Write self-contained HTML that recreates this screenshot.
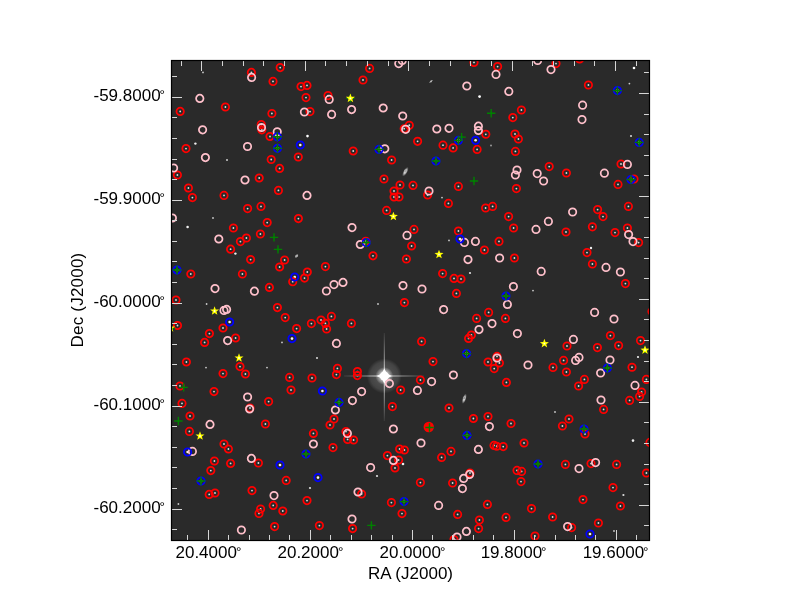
<!DOCTYPE html><html><head><meta charset="utf-8"><style>html,body{margin:0;padding:0;background:#fff;width:800px;height:600px;overflow:hidden}svg{display:block;will-change:transform}text{font-family:"Liberation Sans",sans-serif;fill:#000}</style></head><body>
<svg width="800" height="600" viewBox="0 0 800 600">
<defs><clipPath id="c"><rect x="171" y="60" width="479" height="481"/></clipPath><radialGradient id="halo"><stop offset="0" stop-color="#fff" stop-opacity="1"/><stop offset="0.25" stop-color="#fff" stop-opacity="0.7"/><stop offset="0.5" stop-color="#aaa" stop-opacity="0.25"/><stop offset="1" stop-color="#888" stop-opacity="0"/></radialGradient></defs>
<rect x="171" y="60" width="479" height="481" fill="#2a2a2a"/>
<g clip-path="url(#c)">
<defs><radialGradient id="h2"><stop offset="0" stop-color="#fff" stop-opacity="0.24"/><stop offset="0.8" stop-color="#fff" stop-opacity="0.12"/><stop offset="1" stop-color="#fff" stop-opacity="0"/></radialGradient><radialGradient id="core"><stop offset="0" stop-color="#fff" stop-opacity="1"/><stop offset="0.55" stop-color="#fff" stop-opacity="1"/><stop offset="1" stop-color="#fff" stop-opacity="0"/></radialGradient><linearGradient id="sv" x1="0" y1="0" x2="0" y2="1"><stop offset="0" stop-color="#fff" stop-opacity="0.08"/><stop offset="0.35" stop-color="#fff" stop-opacity="0.6"/><stop offset="0.5" stop-color="#fff" stop-opacity="1"/><stop offset="0.65" stop-color="#fff" stop-opacity="0.6"/><stop offset="1" stop-color="#fff" stop-opacity="0.08"/></linearGradient><linearGradient id="sh" x1="0" y1="0" x2="1" y2="0"><stop offset="0" stop-color="#fff" stop-opacity="0.08"/><stop offset="0.35" stop-color="#fff" stop-opacity="0.6"/><stop offset="0.5" stop-color="#fff" stop-opacity="1"/><stop offset="0.65" stop-color="#fff" stop-opacity="0.6"/><stop offset="1" stop-color="#fff" stop-opacity="0.08"/></linearGradient></defs>
<circle cx="384.3" cy="376.0" r="17.5" fill="url(#h2)"/>
<rect x="383.8" y="333" width="1" height="88" fill="url(#sv)"/>
<rect x="344" y="375.5" width="80" height="1" fill="url(#sh)"/>
<circle cx="384.3" cy="376.0" r="9" fill="url(#core)" opacity="0.5"/>
<path d="M384.3 368.5L386.90000000000003 373.4L391.8 376.0L386.90000000000003 378.6L384.3 383.5L381.7 378.6L376.8 376.0L381.7 373.4Z" fill="#fff"/>
<circle cx="384.3" cy="376.0" r="4.6" fill="#fff"/>
<defs><radialGradient id="gal"><stop offset="0" stop-color="#fff" stop-opacity="1"/><stop offset="0.45" stop-color="#eee" stop-opacity="0.7"/><stop offset="1" stop-color="#aaa" stop-opacity="0"/></radialGradient></defs>
<ellipse cx="405.4" cy="171.7" rx="2.2" ry="5.5" fill="url(#gal)" transform="rotate(30 405.4 171.7)"/>
<ellipse cx="464.3" cy="398.7" rx="2.0" ry="5.5" fill="url(#gal)" transform="rotate(18 464.3 398.7)"/>
<ellipse cx="431" cy="81.4" rx="1.0" ry="2.6" fill="url(#gal)" transform="rotate(55 431 81.4)"/>
<ellipse cx="296.6" cy="256" rx="1.6" ry="2.6" fill="url(#gal)" transform="rotate(40 296.6 256)"/>
<circle cx="251.4" cy="72.4" r="0.9" fill="#dedede"/>
<circle cx="280.2" cy="67.6" r="0.9" fill="#dedede"/>
<circle cx="273" cy="81.4" r="0.9" fill="#dedede"/>
<circle cx="225.4" cy="107" r="0.9" fill="#dedede"/>
<circle cx="180.2" cy="111.4" r="0.9" fill="#dedede"/>
<circle cx="271.9" cy="113.5" r="0.9" fill="#dedede"/>
<circle cx="261.25" cy="124.6" r="0.9" fill="#dedede"/>
<circle cx="261.8" cy="129.8" r="0.9" fill="#dedede"/>
<circle cx="270" cy="136.5" r="0.9" fill="#dedede"/>
<circle cx="186" cy="148.6" r="0.9" fill="#dedede"/>
<circle cx="271.2" cy="159.5" r="0.9" fill="#dedede"/>
<circle cx="279.6" cy="168.4" r="0.9" fill="#dedede"/>
<circle cx="177.4" cy="175" r="0.9" fill="#dedede"/>
<circle cx="259.2" cy="178" r="0.9" fill="#dedede"/>
<circle cx="369.6" cy="68.4" r="0.9" fill="#dedede"/>
<circle cx="363" cy="80" r="0.9" fill="#dedede"/>
<circle cx="301" cy="86.6" r="0.9" fill="#dedede"/>
<circle cx="307" cy="85.4" r="0.9" fill="#dedede"/>
<circle cx="306" cy="97.6" r="0.9" fill="#dedede"/>
<circle cx="328" cy="95.6" r="0.9" fill="#dedede"/>
<circle cx="310" cy="111.6" r="0.9" fill="#dedede"/>
<circle cx="409.3" cy="125.2" r="0.9" fill="#dedede"/>
<circle cx="404.2" cy="128.7" r="0.9" fill="#dedede"/>
<circle cx="353.2" cy="151" r="0.9" fill="#dedede"/>
<circle cx="298.3" cy="157" r="0.9" fill="#dedede"/>
<circle cx="391.6" cy="160" r="0.9" fill="#dedede"/>
<circle cx="384" cy="179" r="0.9" fill="#dedede"/>
<circle cx="474" cy="62.4" r="0.9" fill="#dedede"/>
<circle cx="497.6" cy="66.6" r="0.9" fill="#dedede"/>
<circle cx="521.4" cy="110" r="0.9" fill="#dedede"/>
<circle cx="512.8" cy="117.6" r="0.9" fill="#dedede"/>
<circle cx="485.8" cy="134.3" r="0.9" fill="#dedede"/>
<circle cx="515" cy="134" r="0.9" fill="#dedede"/>
<circle cx="518.4" cy="139" r="0.9" fill="#dedede"/>
<circle cx="417.6" cy="141.3" r="0.9" fill="#dedede"/>
<circle cx="443" cy="145.2" r="0.9" fill="#dedede"/>
<circle cx="453.1" cy="147.9" r="0.9" fill="#dedede"/>
<circle cx="477.1" cy="149.4" r="0.9" fill="#dedede"/>
<circle cx="515.4" cy="151.4" r="0.9" fill="#dedede"/>
<circle cx="556" cy="63.6" r="0.9" fill="#dedede"/>
<circle cx="579.6" cy="59" r="0.9" fill="#dedede"/>
<circle cx="588.4" cy="85" r="0.9" fill="#dedede"/>
<circle cx="549.2" cy="166.6" r="0.9" fill="#dedede"/>
<circle cx="566.4" cy="173" r="0.9" fill="#dedede"/>
<circle cx="621" cy="164" r="0.9" fill="#dedede"/>
<circle cx="634" cy="179" r="0.9" fill="#dedede"/>
<circle cx="188.4" cy="188" r="0.9" fill="#dedede"/>
<circle cx="192.4" cy="197.6" r="0.9" fill="#dedede"/>
<circle cx="224" cy="195.4" r="0.9" fill="#dedede"/>
<circle cx="278.4" cy="190.4" r="0.9" fill="#dedede"/>
<circle cx="247.6" cy="208.6" r="0.9" fill="#dedede"/>
<circle cx="261" cy="206.4" r="0.9" fill="#dedede"/>
<circle cx="267.2" cy="222.6" r="0.9" fill="#dedede"/>
<circle cx="233.4" cy="228" r="0.9" fill="#dedede"/>
<circle cx="260.4" cy="234" r="0.9" fill="#dedede"/>
<circle cx="246.4" cy="238" r="0.9" fill="#dedede"/>
<circle cx="240.4" cy="241.6" r="0.9" fill="#dedede"/>
<circle cx="230.6" cy="249.2" r="0.9" fill="#dedede"/>
<circle cx="250.6" cy="259.6" r="0.9" fill="#dedede"/>
<circle cx="284.6" cy="260" r="0.9" fill="#dedede"/>
<circle cx="279.6" cy="267" r="0.9" fill="#dedede"/>
<circle cx="190.8" cy="274" r="0.9" fill="#dedede"/>
<circle cx="242.4" cy="274" r="0.9" fill="#dedede"/>
<circle cx="269.4" cy="287.4" r="0.9" fill="#dedede"/>
<circle cx="176" cy="300" r="0.9" fill="#dedede"/>
<circle cx="400" cy="185" r="0.9" fill="#dedede"/>
<circle cx="394" cy="191" r="0.9" fill="#dedede"/>
<circle cx="394" cy="197" r="0.9" fill="#dedede"/>
<circle cx="399" cy="197" r="0.9" fill="#dedede"/>
<circle cx="386.6" cy="210.4" r="0.9" fill="#dedede"/>
<circle cx="298.4" cy="218.6" r="0.9" fill="#dedede"/>
<circle cx="365.75" cy="241.25" r="0.9" fill="#dedede"/>
<circle cx="373" cy="255.8" r="0.9" fill="#dedede"/>
<circle cx="406.4" cy="259" r="0.9" fill="#dedede"/>
<circle cx="325.4" cy="266.6" r="0.9" fill="#dedede"/>
<circle cx="307.3" cy="272" r="0.9" fill="#dedede"/>
<circle cx="304.5" cy="278.1" r="0.9" fill="#dedede"/>
<circle cx="292.7" cy="281.7" r="0.9" fill="#dedede"/>
<circle cx="413" cy="185.4" r="0.9" fill="#dedede"/>
<circle cx="458.4" cy="186.4" r="0.9" fill="#dedede"/>
<circle cx="516.4" cy="188.6" r="0.9" fill="#dedede"/>
<circle cx="427.6" cy="195" r="0.9" fill="#dedede"/>
<circle cx="448.4" cy="203.4" r="0.9" fill="#dedede"/>
<circle cx="485.6" cy="208" r="0.9" fill="#dedede"/>
<circle cx="492.6" cy="206.4" r="0.9" fill="#dedede"/>
<circle cx="508.6" cy="216.6" r="0.9" fill="#dedede"/>
<circle cx="513.6" cy="228" r="0.9" fill="#dedede"/>
<circle cx="414" cy="229.4" r="0.9" fill="#dedede"/>
<circle cx="458.4" cy="231" r="0.9" fill="#dedede"/>
<circle cx="411.6" cy="246" r="0.9" fill="#dedede"/>
<circle cx="499" cy="241.4" r="0.9" fill="#dedede"/>
<circle cx="484.4" cy="250" r="0.9" fill="#dedede"/>
<circle cx="514.4" cy="258" r="0.9" fill="#dedede"/>
<circle cx="442.6" cy="273.6" r="0.9" fill="#dedede"/>
<circle cx="454" cy="278.4" r="0.9" fill="#dedede"/>
<circle cx="461" cy="279" r="0.9" fill="#dedede"/>
<circle cx="456.4" cy="293.4" r="0.9" fill="#dedede"/>
<circle cx="618" cy="184.4" r="0.9" fill="#dedede"/>
<circle cx="628.4" cy="206.4" r="0.9" fill="#dedede"/>
<circle cx="597.6" cy="209.6" r="0.9" fill="#dedede"/>
<circle cx="603" cy="216.6" r="0.9" fill="#dedede"/>
<circle cx="592.4" cy="226.8" r="0.9" fill="#dedede"/>
<circle cx="566" cy="232" r="0.9" fill="#dedede"/>
<circle cx="615" cy="232.6" r="0.9" fill="#dedede"/>
<circle cx="627.4" cy="228" r="0.9" fill="#dedede"/>
<circle cx="638.6" cy="242.6" r="0.9" fill="#dedede"/>
<circle cx="587" cy="252.6" r="0.9" fill="#dedede"/>
<circle cx="592.4" cy="264" r="0.9" fill="#dedede"/>
<circle cx="625.4" cy="283.6" r="0.9" fill="#dedede"/>
<circle cx="277.4" cy="307.6" r="0.9" fill="#dedede"/>
<circle cx="285.2" cy="317.6" r="0.9" fill="#dedede"/>
<circle cx="177.5" cy="325.5" r="0.9" fill="#dedede"/>
<circle cx="223" cy="328" r="0.9" fill="#dedede"/>
<circle cx="209.4" cy="333.6" r="0.9" fill="#dedede"/>
<circle cx="235.6" cy="338" r="0.9" fill="#dedede"/>
<circle cx="204.6" cy="342.4" r="0.9" fill="#dedede"/>
<circle cx="186.4" cy="362" r="0.9" fill="#dedede"/>
<circle cx="240" cy="366.6" r="0.9" fill="#dedede"/>
<circle cx="223" cy="373.6" r="0.9" fill="#dedede"/>
<circle cx="245.4" cy="374" r="0.9" fill="#dedede"/>
<circle cx="180" cy="386" r="0.9" fill="#dedede"/>
<circle cx="214" cy="391.6" r="0.9" fill="#dedede"/>
<circle cx="289.6" cy="377.4" r="0.9" fill="#dedede"/>
<circle cx="268.6" cy="401.6" r="0.9" fill="#dedede"/>
<circle cx="182" cy="403.4" r="0.9" fill="#dedede"/>
<circle cx="250" cy="408" r="0.9" fill="#dedede"/>
<circle cx="190" cy="416" r="0.9" fill="#dedede"/>
<circle cx="404.4" cy="302.6" r="0.9" fill="#dedede"/>
<circle cx="331.4" cy="316.4" r="0.9" fill="#dedede"/>
<circle cx="321" cy="320" r="0.9" fill="#dedede"/>
<circle cx="311.4" cy="323.6" r="0.9" fill="#dedede"/>
<circle cx="325.4" cy="323.4" r="0.9" fill="#dedede"/>
<circle cx="326.6" cy="329" r="0.9" fill="#dedede"/>
<circle cx="351.4" cy="323.4" r="0.9" fill="#dedede"/>
<circle cx="296.6" cy="328.6" r="0.9" fill="#dedede"/>
<circle cx="337.4" cy="368.4" r="0.9" fill="#dedede"/>
<circle cx="336.4" cy="374.6" r="0.9" fill="#dedede"/>
<circle cx="357.4" cy="371.6" r="0.9" fill="#dedede"/>
<circle cx="357.4" cy="375.6" r="0.9" fill="#dedede"/>
<circle cx="312" cy="378" r="0.9" fill="#dedede"/>
<circle cx="291" cy="390" r="0.9" fill="#dedede"/>
<circle cx="400.6" cy="390" r="0.9" fill="#dedede"/>
<circle cx="392.4" cy="406.6" r="0.9" fill="#dedede"/>
<circle cx="334" cy="419" r="0.9" fill="#dedede"/>
<circle cx="488.6" cy="312.4" r="0.9" fill="#dedede"/>
<circle cx="476.6" cy="318.4" r="0.9" fill="#dedede"/>
<circle cx="505.4" cy="318.4" r="0.9" fill="#dedede"/>
<circle cx="471.4" cy="335" r="0.9" fill="#dedede"/>
<circle cx="468.6" cy="338.4" r="0.9" fill="#dedede"/>
<circle cx="421.6" cy="341.4" r="0.9" fill="#dedede"/>
<circle cx="433" cy="361.6" r="0.9" fill="#dedede"/>
<circle cx="488" cy="362" r="0.9" fill="#dedede"/>
<circle cx="497" cy="356.4" r="0.9" fill="#dedede"/>
<circle cx="499.4" cy="363" r="0.9" fill="#dedede"/>
<circle cx="494.2" cy="368.6" r="0.9" fill="#dedede"/>
<circle cx="420.4" cy="380" r="0.9" fill="#dedede"/>
<circle cx="506.4" cy="382.4" r="0.9" fill="#dedede"/>
<circle cx="449" cy="408" r="0.9" fill="#dedede"/>
<circle cx="473.4" cy="418.5" r="0.9" fill="#dedede"/>
<circle cx="488" cy="416.5" r="0.9" fill="#dedede"/>
<circle cx="511" cy="423.5" r="0.9" fill="#dedede"/>
<circle cx="610.4" cy="335.6" r="0.9" fill="#dedede"/>
<circle cx="640.5" cy="340.6" r="0.9" fill="#dedede"/>
<circle cx="567" cy="346" r="0.9" fill="#dedede"/>
<circle cx="597.4" cy="347.6" r="0.9" fill="#dedede"/>
<circle cx="618.6" cy="345.6" r="0.9" fill="#dedede"/>
<circle cx="563.6" cy="360.4" r="0.9" fill="#dedede"/>
<circle cx="553" cy="367.4" r="0.9" fill="#dedede"/>
<circle cx="566.4" cy="372" r="0.9" fill="#dedede"/>
<circle cx="632" cy="367.2" r="0.9" fill="#dedede"/>
<circle cx="646.4" cy="379.4" r="0.9" fill="#dedede"/>
<circle cx="584.4" cy="379.4" r="0.9" fill="#dedede"/>
<circle cx="578.6" cy="386" r="0.9" fill="#dedede"/>
<circle cx="641.6" cy="392" r="0.9" fill="#dedede"/>
<circle cx="639.6" cy="396.4" r="0.9" fill="#dedede"/>
<circle cx="629.6" cy="400.4" r="0.9" fill="#dedede"/>
<circle cx="603.6" cy="409.4" r="0.9" fill="#dedede"/>
<circle cx="569" cy="419" r="0.9" fill="#dedede"/>
<circle cx="652" cy="311.4" r="0.9" fill="#dedede"/>
<circle cx="189.4" cy="431.4" r="0.9" fill="#dedede"/>
<circle cx="265.4" cy="424" r="0.9" fill="#dedede"/>
<circle cx="224" cy="444" r="0.9" fill="#dedede"/>
<circle cx="228.4" cy="449" r="0.9" fill="#dedede"/>
<circle cx="214.4" cy="461" r="0.9" fill="#dedede"/>
<circle cx="230.6" cy="463.4" r="0.9" fill="#dedede"/>
<circle cx="258.4" cy="463" r="0.9" fill="#dedede"/>
<circle cx="210.8" cy="470.6" r="0.9" fill="#dedede"/>
<circle cx="286.2" cy="480.4" r="0.9" fill="#dedede"/>
<circle cx="209.2" cy="494.4" r="0.9" fill="#dedede"/>
<circle cx="215" cy="493" r="0.9" fill="#dedede"/>
<circle cx="252" cy="490.6" r="0.9" fill="#dedede"/>
<circle cx="273.2" cy="505.4" r="0.9" fill="#dedede"/>
<circle cx="260.6" cy="509" r="0.9" fill="#dedede"/>
<circle cx="259" cy="513.4" r="0.9" fill="#dedede"/>
<circle cx="282.8" cy="511" r="0.9" fill="#dedede"/>
<circle cx="274.6" cy="526.6" r="0.9" fill="#dedede"/>
<circle cx="330" cy="425" r="0.9" fill="#dedede"/>
<circle cx="313.4" cy="433.4" r="0.9" fill="#dedede"/>
<circle cx="346" cy="431.6" r="0.9" fill="#dedede"/>
<circle cx="347.6" cy="439.4" r="0.9" fill="#dedede"/>
<circle cx="353.6" cy="440" r="0.9" fill="#dedede"/>
<circle cx="333" cy="447.6" r="0.9" fill="#dedede"/>
<circle cx="399.6" cy="449" r="0.9" fill="#dedede"/>
<circle cx="404.4" cy="450" r="0.9" fill="#dedede"/>
<circle cx="387.4" cy="455.6" r="0.9" fill="#dedede"/>
<circle cx="398.6" cy="460" r="0.9" fill="#dedede"/>
<circle cx="395" cy="468" r="0.9" fill="#dedede"/>
<circle cx="361.6" cy="494" r="0.9" fill="#dedede"/>
<circle cx="307" cy="500.6" r="0.9" fill="#dedede"/>
<circle cx="391.4" cy="502.6" r="0.9" fill="#dedede"/>
<circle cx="402" cy="513.6" r="0.9" fill="#dedede"/>
<circle cx="319.4" cy="525.6" r="0.9" fill="#dedede"/>
<circle cx="352.6" cy="528.6" r="0.9" fill="#dedede"/>
<circle cx="451" cy="451.4" r="0.9" fill="#dedede"/>
<circle cx="441.6" cy="457.4" r="0.9" fill="#dedede"/>
<circle cx="494" cy="445.4" r="0.9" fill="#dedede"/>
<circle cx="496.7" cy="446.2" r="0.9" fill="#dedede"/>
<circle cx="503.2" cy="446.6" r="0.9" fill="#dedede"/>
<circle cx="524" cy="443" r="0.9" fill="#dedede"/>
<circle cx="470" cy="473" r="0.9" fill="#dedede"/>
<circle cx="517" cy="470.4" r="0.9" fill="#dedede"/>
<circle cx="521.6" cy="471.4" r="0.9" fill="#dedede"/>
<circle cx="521" cy="481.6" r="0.9" fill="#dedede"/>
<circle cx="420.4" cy="482.6" r="0.9" fill="#dedede"/>
<circle cx="452.6" cy="483" r="0.9" fill="#dedede"/>
<circle cx="487.4" cy="504.4" r="0.9" fill="#dedede"/>
<circle cx="531.5" cy="508.6" r="0.9" fill="#dedede"/>
<circle cx="457.6" cy="514.4" r="0.9" fill="#dedede"/>
<circle cx="506" cy="517.4" r="0.9" fill="#dedede"/>
<circle cx="479.4" cy="520" r="0.9" fill="#dedede"/>
<circle cx="478.6" cy="528.6" r="0.9" fill="#dedede"/>
<circle cx="454" cy="539.6" r="0.9" fill="#dedede"/>
<circle cx="562.4" cy="426" r="0.9" fill="#dedede"/>
<circle cx="585" cy="434" r="0.9" fill="#dedede"/>
<circle cx="650" cy="442.4" r="0.9" fill="#dedede"/>
<circle cx="565.4" cy="464.4" r="0.9" fill="#dedede"/>
<circle cx="591" cy="463.6" r="0.9" fill="#dedede"/>
<circle cx="616.6" cy="464.4" r="0.9" fill="#dedede"/>
<circle cx="646.4" cy="473" r="0.9" fill="#dedede"/>
<circle cx="613" cy="487.6" r="0.9" fill="#dedede"/>
<circle cx="583" cy="499.6" r="0.9" fill="#dedede"/>
<circle cx="620.4" cy="506" r="0.9" fill="#dedede"/>
<circle cx="552.6" cy="517" r="0.9" fill="#dedede"/>
<circle cx="598.4" cy="523" r="0.9" fill="#dedede"/>
<circle cx="571.6" cy="527.6" r="0.9" fill="#dedede"/>
<circle cx="535" cy="536" r="0.9" fill="#dedede"/>
<circle cx="300.3" cy="145" r="1.3" fill="#f4f4f4"/>
<circle cx="475.6" cy="140.3" r="1.3" fill="#f4f4f4"/>
<circle cx="294.7" cy="277" r="1.3" fill="#f4f4f4"/>
<circle cx="460" cy="239" r="1.3" fill="#f4f4f4"/>
<circle cx="229.6" cy="322" r="1.3" fill="#f4f4f4"/>
<circle cx="292" cy="338.6" r="1.3" fill="#f4f4f4"/>
<circle cx="322.4" cy="391" r="1.3" fill="#f4f4f4"/>
<circle cx="187.6" cy="452" r="1.3" fill="#f4f4f4"/>
<circle cx="280" cy="465" r="1.3" fill="#f4f4f4"/>
<circle cx="318" cy="477.6" r="1.3" fill="#f4f4f4"/>
<circle cx="590" cy="534" r="1.3" fill="#f4f4f4"/>
<circle cx="277.3" cy="136.8" r="1.3" fill="#f4f4f4"/>
<circle cx="277.5" cy="148.3" r="1.3" fill="#f4f4f4"/>
<circle cx="379" cy="149.4" r="1.3" fill="#f4f4f4"/>
<circle cx="458.4" cy="140.4" r="1.3" fill="#f4f4f4"/>
<circle cx="436" cy="161" r="1.3" fill="#f4f4f4"/>
<circle cx="617.4" cy="90.6" r="1.3" fill="#f4f4f4"/>
<circle cx="639.2" cy="142.4" r="1.3" fill="#f4f4f4"/>
<circle cx="631" cy="179.5" r="1.3" fill="#f4f4f4"/>
<circle cx="177" cy="270" r="1.3" fill="#f4f4f4"/>
<circle cx="366.25" cy="242.5" r="1.3" fill="#f4f4f4"/>
<circle cx="506" cy="296" r="1.3" fill="#f4f4f4"/>
<circle cx="339" cy="402.4" r="1.3" fill="#f4f4f4"/>
<circle cx="466.6" cy="353.6" r="1.3" fill="#f4f4f4"/>
<circle cx="607.4" cy="368" r="1.3" fill="#f4f4f4"/>
<circle cx="201" cy="481" r="1.3" fill="#f4f4f4"/>
<circle cx="306" cy="454" r="1.3" fill="#f4f4f4"/>
<circle cx="404" cy="501.6" r="1.3" fill="#f4f4f4"/>
<circle cx="467" cy="435.4" r="1.3" fill="#f4f4f4"/>
<circle cx="584" cy="429" r="1.3" fill="#f4f4f4"/>
<circle cx="538" cy="464" r="1.3" fill="#f4f4f4"/>
<circle cx="307.5" cy="136.1" r="1.3" fill="#fff"/>
<circle cx="479.6" cy="96.6" r="1.4" fill="#fff"/>
<circle cx="187.6" cy="227" r="1.3" fill="#f0f0f0"/>
<circle cx="235.4" cy="253.6" r="1.2" fill="#eee"/>
<circle cx="591" cy="248" r="1.2" fill="#eee"/>
<circle cx="403" cy="464" r="1.3" fill="#eee"/>
<circle cx="377" cy="476" r="1.1" fill="#ddd"/>
<circle cx="310" cy="488" r="1.1" fill="#ddd"/>
<circle cx="633" cy="440.6" r="1.3" fill="#eee"/>
<circle cx="623.4" cy="495" r="1.1" fill="#ddd"/>
<circle cx="195.4" cy="143.6" r="1.2" fill="#eee"/>
<circle cx="227" cy="160" r="1.0" fill="#ccc"/>
<circle cx="203" cy="72.4" r="0.9" fill="#ccc"/>
<circle cx="405.6" cy="171" r="1.4" fill="#aaa"/>
<circle cx="431" cy="81.4" r="0.9" fill="#aaa"/>
<circle cx="491" cy="145.6" r="1.0" fill="#999"/>
<circle cx="634" cy="68" r="1.3" fill="#fff"/>
<circle cx="629.4" cy="83.6" r="0.9" fill="#ccc"/>
<circle cx="631" cy="136" r="1.0" fill="#ddd"/>
<circle cx="213" cy="218" r="0.9" fill="#ccc"/>
<circle cx="296.6" cy="256" r="1.1" fill="#aaa"/>
<circle cx="442" cy="197.6" r="0.9" fill="#ccc"/>
<circle cx="449" cy="240.4" r="0.9" fill="#ccc"/>
<circle cx="470" cy="273" r="1.1" fill="#ddd"/>
<circle cx="533" cy="290.6" r="0.9" fill="#ccc"/>
<circle cx="206.6" cy="304" r="0.9" fill="#ccc"/>
<circle cx="206" cy="367.6" r="0.9" fill="#ccc"/>
<circle cx="267" cy="367.6" r="0.9" fill="#ccc"/>
<circle cx="282" cy="342.4" r="0.9" fill="#ccc"/>
<circle cx="317" cy="358" r="1.0" fill="#ddd"/>
<circle cx="378" cy="304" r="0.9" fill="#ccc"/>
<circle cx="638" cy="357" r="1.1" fill="#eee"/>
<circle cx="555" cy="412" r="0.9" fill="#ccc"/>
<circle cx="178.4" cy="504" r="0.9" fill="#ccc"/>
<circle cx="614" cy="531" r="0.9" fill="#ccc"/>
<circle cx="464" cy="398" r="1.2" fill="#999"/>
<path d="M247.70 72.40a3.7 3.7 0 1 0 7.4 0a3.7 3.7 0 1 0 -7.4 0M276.50 67.60a3.7 3.7 0 1 0 7.4 0a3.7 3.7 0 1 0 -7.4 0M269.30 81.40a3.7 3.7 0 1 0 7.4 0a3.7 3.7 0 1 0 -7.4 0M221.70 107.00a3.7 3.7 0 1 0 7.4 0a3.7 3.7 0 1 0 -7.4 0M176.50 111.40a3.7 3.7 0 1 0 7.4 0a3.7 3.7 0 1 0 -7.4 0M268.20 113.50a3.7 3.7 0 1 0 7.4 0a3.7 3.7 0 1 0 -7.4 0M257.55 124.60a3.7 3.7 0 1 0 7.4 0a3.7 3.7 0 1 0 -7.4 0M258.10 129.80a3.7 3.7 0 1 0 7.4 0a3.7 3.7 0 1 0 -7.4 0M266.30 136.50a3.7 3.7 0 1 0 7.4 0a3.7 3.7 0 1 0 -7.4 0M182.30 148.60a3.7 3.7 0 1 0 7.4 0a3.7 3.7 0 1 0 -7.4 0M267.50 159.50a3.7 3.7 0 1 0 7.4 0a3.7 3.7 0 1 0 -7.4 0M275.90 168.40a3.7 3.7 0 1 0 7.4 0a3.7 3.7 0 1 0 -7.4 0M173.70 175.00a3.7 3.7 0 1 0 7.4 0a3.7 3.7 0 1 0 -7.4 0M255.50 178.00a3.7 3.7 0 1 0 7.4 0a3.7 3.7 0 1 0 -7.4 0M365.90 68.40a3.7 3.7 0 1 0 7.4 0a3.7 3.7 0 1 0 -7.4 0M359.30 80.00a3.7 3.7 0 1 0 7.4 0a3.7 3.7 0 1 0 -7.4 0M297.30 86.60a3.7 3.7 0 1 0 7.4 0a3.7 3.7 0 1 0 -7.4 0M303.30 85.40a3.7 3.7 0 1 0 7.4 0a3.7 3.7 0 1 0 -7.4 0M302.30 97.60a3.7 3.7 0 1 0 7.4 0a3.7 3.7 0 1 0 -7.4 0M324.30 95.60a3.7 3.7 0 1 0 7.4 0a3.7 3.7 0 1 0 -7.4 0M306.30 111.60a3.7 3.7 0 1 0 7.4 0a3.7 3.7 0 1 0 -7.4 0M405.60 125.20a3.7 3.7 0 1 0 7.4 0a3.7 3.7 0 1 0 -7.4 0M400.50 128.70a3.7 3.7 0 1 0 7.4 0a3.7 3.7 0 1 0 -7.4 0M349.50 151.00a3.7 3.7 0 1 0 7.4 0a3.7 3.7 0 1 0 -7.4 0M294.60 157.00a3.7 3.7 0 1 0 7.4 0a3.7 3.7 0 1 0 -7.4 0M387.90 160.00a3.7 3.7 0 1 0 7.4 0a3.7 3.7 0 1 0 -7.4 0M380.30 179.00a3.7 3.7 0 1 0 7.4 0a3.7 3.7 0 1 0 -7.4 0M470.30 62.40a3.7 3.7 0 1 0 7.4 0a3.7 3.7 0 1 0 -7.4 0M493.90 66.60a3.7 3.7 0 1 0 7.4 0a3.7 3.7 0 1 0 -7.4 0M517.70 110.00a3.7 3.7 0 1 0 7.4 0a3.7 3.7 0 1 0 -7.4 0M509.10 117.60a3.7 3.7 0 1 0 7.4 0a3.7 3.7 0 1 0 -7.4 0M482.10 134.30a3.7 3.7 0 1 0 7.4 0a3.7 3.7 0 1 0 -7.4 0M511.30 134.00a3.7 3.7 0 1 0 7.4 0a3.7 3.7 0 1 0 -7.4 0M514.70 139.00a3.7 3.7 0 1 0 7.4 0a3.7 3.7 0 1 0 -7.4 0M413.90 141.30a3.7 3.7 0 1 0 7.4 0a3.7 3.7 0 1 0 -7.4 0M439.30 145.20a3.7 3.7 0 1 0 7.4 0a3.7 3.7 0 1 0 -7.4 0M449.40 147.90a3.7 3.7 0 1 0 7.4 0a3.7 3.7 0 1 0 -7.4 0M473.40 149.40a3.7 3.7 0 1 0 7.4 0a3.7 3.7 0 1 0 -7.4 0M511.70 151.40a3.7 3.7 0 1 0 7.4 0a3.7 3.7 0 1 0 -7.4 0M552.30 63.60a3.7 3.7 0 1 0 7.4 0a3.7 3.7 0 1 0 -7.4 0M575.90 59.00a3.7 3.7 0 1 0 7.4 0a3.7 3.7 0 1 0 -7.4 0M584.70 85.00a3.7 3.7 0 1 0 7.4 0a3.7 3.7 0 1 0 -7.4 0M545.50 166.60a3.7 3.7 0 1 0 7.4 0a3.7 3.7 0 1 0 -7.4 0M562.70 173.00a3.7 3.7 0 1 0 7.4 0a3.7 3.7 0 1 0 -7.4 0M617.30 164.00a3.7 3.7 0 1 0 7.4 0a3.7 3.7 0 1 0 -7.4 0M630.30 179.00a3.7 3.7 0 1 0 7.4 0a3.7 3.7 0 1 0 -7.4 0M184.70 188.00a3.7 3.7 0 1 0 7.4 0a3.7 3.7 0 1 0 -7.4 0M188.70 197.60a3.7 3.7 0 1 0 7.4 0a3.7 3.7 0 1 0 -7.4 0M220.30 195.40a3.7 3.7 0 1 0 7.4 0a3.7 3.7 0 1 0 -7.4 0M274.70 190.40a3.7 3.7 0 1 0 7.4 0a3.7 3.7 0 1 0 -7.4 0M243.90 208.60a3.7 3.7 0 1 0 7.4 0a3.7 3.7 0 1 0 -7.4 0M257.30 206.40a3.7 3.7 0 1 0 7.4 0a3.7 3.7 0 1 0 -7.4 0M263.50 222.60a3.7 3.7 0 1 0 7.4 0a3.7 3.7 0 1 0 -7.4 0M229.70 228.00a3.7 3.7 0 1 0 7.4 0a3.7 3.7 0 1 0 -7.4 0M256.70 234.00a3.7 3.7 0 1 0 7.4 0a3.7 3.7 0 1 0 -7.4 0M242.70 238.00a3.7 3.7 0 1 0 7.4 0a3.7 3.7 0 1 0 -7.4 0M236.70 241.60a3.7 3.7 0 1 0 7.4 0a3.7 3.7 0 1 0 -7.4 0M226.90 249.20a3.7 3.7 0 1 0 7.4 0a3.7 3.7 0 1 0 -7.4 0M246.90 259.60a3.7 3.7 0 1 0 7.4 0a3.7 3.7 0 1 0 -7.4 0M280.90 260.00a3.7 3.7 0 1 0 7.4 0a3.7 3.7 0 1 0 -7.4 0M275.90 267.00a3.7 3.7 0 1 0 7.4 0a3.7 3.7 0 1 0 -7.4 0M187.10 274.00a3.7 3.7 0 1 0 7.4 0a3.7 3.7 0 1 0 -7.4 0M238.70 274.00a3.7 3.7 0 1 0 7.4 0a3.7 3.7 0 1 0 -7.4 0M265.70 287.40a3.7 3.7 0 1 0 7.4 0a3.7 3.7 0 1 0 -7.4 0M172.30 300.00a3.7 3.7 0 1 0 7.4 0a3.7 3.7 0 1 0 -7.4 0M396.30 185.00a3.7 3.7 0 1 0 7.4 0a3.7 3.7 0 1 0 -7.4 0M390.30 191.00a3.7 3.7 0 1 0 7.4 0a3.7 3.7 0 1 0 -7.4 0M390.30 197.00a3.7 3.7 0 1 0 7.4 0a3.7 3.7 0 1 0 -7.4 0M395.30 197.00a3.7 3.7 0 1 0 7.4 0a3.7 3.7 0 1 0 -7.4 0M382.90 210.40a3.7 3.7 0 1 0 7.4 0a3.7 3.7 0 1 0 -7.4 0M294.70 218.60a3.7 3.7 0 1 0 7.4 0a3.7 3.7 0 1 0 -7.4 0M362.05 241.25a3.7 3.7 0 1 0 7.4 0a3.7 3.7 0 1 0 -7.4 0M369.30 255.80a3.7 3.7 0 1 0 7.4 0a3.7 3.7 0 1 0 -7.4 0M402.70 259.00a3.7 3.7 0 1 0 7.4 0a3.7 3.7 0 1 0 -7.4 0M321.70 266.60a3.7 3.7 0 1 0 7.4 0a3.7 3.7 0 1 0 -7.4 0M303.60 272.00a3.7 3.7 0 1 0 7.4 0a3.7 3.7 0 1 0 -7.4 0M300.80 278.10a3.7 3.7 0 1 0 7.4 0a3.7 3.7 0 1 0 -7.4 0M289.00 281.70a3.7 3.7 0 1 0 7.4 0a3.7 3.7 0 1 0 -7.4 0M409.30 185.40a3.7 3.7 0 1 0 7.4 0a3.7 3.7 0 1 0 -7.4 0M454.70 186.40a3.7 3.7 0 1 0 7.4 0a3.7 3.7 0 1 0 -7.4 0M512.70 188.60a3.7 3.7 0 1 0 7.4 0a3.7 3.7 0 1 0 -7.4 0M423.90 195.00a3.7 3.7 0 1 0 7.4 0a3.7 3.7 0 1 0 -7.4 0M444.70 203.40a3.7 3.7 0 1 0 7.4 0a3.7 3.7 0 1 0 -7.4 0M481.90 208.00a3.7 3.7 0 1 0 7.4 0a3.7 3.7 0 1 0 -7.4 0M488.90 206.40a3.7 3.7 0 1 0 7.4 0a3.7 3.7 0 1 0 -7.4 0M504.90 216.60a3.7 3.7 0 1 0 7.4 0a3.7 3.7 0 1 0 -7.4 0M509.90 228.00a3.7 3.7 0 1 0 7.4 0a3.7 3.7 0 1 0 -7.4 0M410.30 229.40a3.7 3.7 0 1 0 7.4 0a3.7 3.7 0 1 0 -7.4 0M454.70 231.00a3.7 3.7 0 1 0 7.4 0a3.7 3.7 0 1 0 -7.4 0M407.90 246.00a3.7 3.7 0 1 0 7.4 0a3.7 3.7 0 1 0 -7.4 0M495.30 241.40a3.7 3.7 0 1 0 7.4 0a3.7 3.7 0 1 0 -7.4 0M480.70 250.00a3.7 3.7 0 1 0 7.4 0a3.7 3.7 0 1 0 -7.4 0M510.70 258.00a3.7 3.7 0 1 0 7.4 0a3.7 3.7 0 1 0 -7.4 0M438.90 273.60a3.7 3.7 0 1 0 7.4 0a3.7 3.7 0 1 0 -7.4 0M450.30 278.40a3.7 3.7 0 1 0 7.4 0a3.7 3.7 0 1 0 -7.4 0M457.30 279.00a3.7 3.7 0 1 0 7.4 0a3.7 3.7 0 1 0 -7.4 0M452.70 293.40a3.7 3.7 0 1 0 7.4 0a3.7 3.7 0 1 0 -7.4 0M614.30 184.40a3.7 3.7 0 1 0 7.4 0a3.7 3.7 0 1 0 -7.4 0M624.70 206.40a3.7 3.7 0 1 0 7.4 0a3.7 3.7 0 1 0 -7.4 0M593.90 209.60a3.7 3.7 0 1 0 7.4 0a3.7 3.7 0 1 0 -7.4 0M599.30 216.60a3.7 3.7 0 1 0 7.4 0a3.7 3.7 0 1 0 -7.4 0M588.70 226.80a3.7 3.7 0 1 0 7.4 0a3.7 3.7 0 1 0 -7.4 0M562.30 232.00a3.7 3.7 0 1 0 7.4 0a3.7 3.7 0 1 0 -7.4 0M611.30 232.60a3.7 3.7 0 1 0 7.4 0a3.7 3.7 0 1 0 -7.4 0M623.70 228.00a3.7 3.7 0 1 0 7.4 0a3.7 3.7 0 1 0 -7.4 0M634.90 242.60a3.7 3.7 0 1 0 7.4 0a3.7 3.7 0 1 0 -7.4 0M583.30 252.60a3.7 3.7 0 1 0 7.4 0a3.7 3.7 0 1 0 -7.4 0M588.70 264.00a3.7 3.7 0 1 0 7.4 0a3.7 3.7 0 1 0 -7.4 0M621.70 283.60a3.7 3.7 0 1 0 7.4 0a3.7 3.7 0 1 0 -7.4 0M273.70 307.60a3.7 3.7 0 1 0 7.4 0a3.7 3.7 0 1 0 -7.4 0M281.50 317.60a3.7 3.7 0 1 0 7.4 0a3.7 3.7 0 1 0 -7.4 0M173.80 325.50a3.7 3.7 0 1 0 7.4 0a3.7 3.7 0 1 0 -7.4 0M219.30 328.00a3.7 3.7 0 1 0 7.4 0a3.7 3.7 0 1 0 -7.4 0M205.70 333.60a3.7 3.7 0 1 0 7.4 0a3.7 3.7 0 1 0 -7.4 0M231.90 338.00a3.7 3.7 0 1 0 7.4 0a3.7 3.7 0 1 0 -7.4 0M200.90 342.40a3.7 3.7 0 1 0 7.4 0a3.7 3.7 0 1 0 -7.4 0M182.70 362.00a3.7 3.7 0 1 0 7.4 0a3.7 3.7 0 1 0 -7.4 0M236.30 366.60a3.7 3.7 0 1 0 7.4 0a3.7 3.7 0 1 0 -7.4 0M219.30 373.60a3.7 3.7 0 1 0 7.4 0a3.7 3.7 0 1 0 -7.4 0M241.70 374.00a3.7 3.7 0 1 0 7.4 0a3.7 3.7 0 1 0 -7.4 0M176.30 386.00a3.7 3.7 0 1 0 7.4 0a3.7 3.7 0 1 0 -7.4 0M210.30 391.60a3.7 3.7 0 1 0 7.4 0a3.7 3.7 0 1 0 -7.4 0M285.90 377.40a3.7 3.7 0 1 0 7.4 0a3.7 3.7 0 1 0 -7.4 0M264.90 401.60a3.7 3.7 0 1 0 7.4 0a3.7 3.7 0 1 0 -7.4 0M178.30 403.40a3.7 3.7 0 1 0 7.4 0a3.7 3.7 0 1 0 -7.4 0M246.30 408.00a3.7 3.7 0 1 0 7.4 0a3.7 3.7 0 1 0 -7.4 0M186.30 416.00a3.7 3.7 0 1 0 7.4 0a3.7 3.7 0 1 0 -7.4 0M400.70 302.60a3.7 3.7 0 1 0 7.4 0a3.7 3.7 0 1 0 -7.4 0M327.70 316.40a3.7 3.7 0 1 0 7.4 0a3.7 3.7 0 1 0 -7.4 0M317.30 320.00a3.7 3.7 0 1 0 7.4 0a3.7 3.7 0 1 0 -7.4 0M307.70 323.60a3.7 3.7 0 1 0 7.4 0a3.7 3.7 0 1 0 -7.4 0M321.70 323.40a3.7 3.7 0 1 0 7.4 0a3.7 3.7 0 1 0 -7.4 0M322.90 329.00a3.7 3.7 0 1 0 7.4 0a3.7 3.7 0 1 0 -7.4 0M347.70 323.40a3.7 3.7 0 1 0 7.4 0a3.7 3.7 0 1 0 -7.4 0M292.90 328.60a3.7 3.7 0 1 0 7.4 0a3.7 3.7 0 1 0 -7.4 0M333.70 368.40a3.7 3.7 0 1 0 7.4 0a3.7 3.7 0 1 0 -7.4 0M332.70 374.60a3.7 3.7 0 1 0 7.4 0a3.7 3.7 0 1 0 -7.4 0M353.70 371.60a3.7 3.7 0 1 0 7.4 0a3.7 3.7 0 1 0 -7.4 0M353.70 375.60a3.7 3.7 0 1 0 7.4 0a3.7 3.7 0 1 0 -7.4 0M308.30 378.00a3.7 3.7 0 1 0 7.4 0a3.7 3.7 0 1 0 -7.4 0M287.30 390.00a3.7 3.7 0 1 0 7.4 0a3.7 3.7 0 1 0 -7.4 0M396.90 390.00a3.7 3.7 0 1 0 7.4 0a3.7 3.7 0 1 0 -7.4 0M388.70 406.60a3.7 3.7 0 1 0 7.4 0a3.7 3.7 0 1 0 -7.4 0M330.30 419.00a3.7 3.7 0 1 0 7.4 0a3.7 3.7 0 1 0 -7.4 0M484.90 312.40a3.7 3.7 0 1 0 7.4 0a3.7 3.7 0 1 0 -7.4 0M472.90 318.40a3.7 3.7 0 1 0 7.4 0a3.7 3.7 0 1 0 -7.4 0M501.70 318.40a3.7 3.7 0 1 0 7.4 0a3.7 3.7 0 1 0 -7.4 0M467.70 335.00a3.7 3.7 0 1 0 7.4 0a3.7 3.7 0 1 0 -7.4 0M464.90 338.40a3.7 3.7 0 1 0 7.4 0a3.7 3.7 0 1 0 -7.4 0M417.90 341.40a3.7 3.7 0 1 0 7.4 0a3.7 3.7 0 1 0 -7.4 0M429.30 361.60a3.7 3.7 0 1 0 7.4 0a3.7 3.7 0 1 0 -7.4 0M484.30 362.00a3.7 3.7 0 1 0 7.4 0a3.7 3.7 0 1 0 -7.4 0M493.30 356.40a3.7 3.7 0 1 0 7.4 0a3.7 3.7 0 1 0 -7.4 0M495.70 363.00a3.7 3.7 0 1 0 7.4 0a3.7 3.7 0 1 0 -7.4 0M490.50 368.60a3.7 3.7 0 1 0 7.4 0a3.7 3.7 0 1 0 -7.4 0M416.70 380.00a3.7 3.7 0 1 0 7.4 0a3.7 3.7 0 1 0 -7.4 0M502.70 382.40a3.7 3.7 0 1 0 7.4 0a3.7 3.7 0 1 0 -7.4 0M445.30 408.00a3.7 3.7 0 1 0 7.4 0a3.7 3.7 0 1 0 -7.4 0M469.70 418.50a3.7 3.7 0 1 0 7.4 0a3.7 3.7 0 1 0 -7.4 0M484.30 416.50a3.7 3.7 0 1 0 7.4 0a3.7 3.7 0 1 0 -7.4 0M507.30 423.50a3.7 3.7 0 1 0 7.4 0a3.7 3.7 0 1 0 -7.4 0M606.70 335.60a3.7 3.7 0 1 0 7.4 0a3.7 3.7 0 1 0 -7.4 0M636.80 340.60a3.7 3.7 0 1 0 7.4 0a3.7 3.7 0 1 0 -7.4 0M563.30 346.00a3.7 3.7 0 1 0 7.4 0a3.7 3.7 0 1 0 -7.4 0M593.70 347.60a3.7 3.7 0 1 0 7.4 0a3.7 3.7 0 1 0 -7.4 0M614.90 345.60a3.7 3.7 0 1 0 7.4 0a3.7 3.7 0 1 0 -7.4 0M559.90 360.40a3.7 3.7 0 1 0 7.4 0a3.7 3.7 0 1 0 -7.4 0M549.30 367.40a3.7 3.7 0 1 0 7.4 0a3.7 3.7 0 1 0 -7.4 0M562.70 372.00a3.7 3.7 0 1 0 7.4 0a3.7 3.7 0 1 0 -7.4 0M628.30 367.20a3.7 3.7 0 1 0 7.4 0a3.7 3.7 0 1 0 -7.4 0M642.70 379.40a3.7 3.7 0 1 0 7.4 0a3.7 3.7 0 1 0 -7.4 0M580.70 379.40a3.7 3.7 0 1 0 7.4 0a3.7 3.7 0 1 0 -7.4 0M574.90 386.00a3.7 3.7 0 1 0 7.4 0a3.7 3.7 0 1 0 -7.4 0M637.90 392.00a3.7 3.7 0 1 0 7.4 0a3.7 3.7 0 1 0 -7.4 0M635.90 396.40a3.7 3.7 0 1 0 7.4 0a3.7 3.7 0 1 0 -7.4 0M625.90 400.40a3.7 3.7 0 1 0 7.4 0a3.7 3.7 0 1 0 -7.4 0M599.90 409.40a3.7 3.7 0 1 0 7.4 0a3.7 3.7 0 1 0 -7.4 0M565.30 419.00a3.7 3.7 0 1 0 7.4 0a3.7 3.7 0 1 0 -7.4 0M648.30 311.40a3.7 3.7 0 1 0 7.4 0a3.7 3.7 0 1 0 -7.4 0M185.70 431.40a3.7 3.7 0 1 0 7.4 0a3.7 3.7 0 1 0 -7.4 0M261.70 424.00a3.7 3.7 0 1 0 7.4 0a3.7 3.7 0 1 0 -7.4 0M220.30 444.00a3.7 3.7 0 1 0 7.4 0a3.7 3.7 0 1 0 -7.4 0M224.70 449.00a3.7 3.7 0 1 0 7.4 0a3.7 3.7 0 1 0 -7.4 0M210.70 461.00a3.7 3.7 0 1 0 7.4 0a3.7 3.7 0 1 0 -7.4 0M226.90 463.40a3.7 3.7 0 1 0 7.4 0a3.7 3.7 0 1 0 -7.4 0M254.70 463.00a3.7 3.7 0 1 0 7.4 0a3.7 3.7 0 1 0 -7.4 0M207.10 470.60a3.7 3.7 0 1 0 7.4 0a3.7 3.7 0 1 0 -7.4 0M282.50 480.40a3.7 3.7 0 1 0 7.4 0a3.7 3.7 0 1 0 -7.4 0M205.50 494.40a3.7 3.7 0 1 0 7.4 0a3.7 3.7 0 1 0 -7.4 0M211.30 493.00a3.7 3.7 0 1 0 7.4 0a3.7 3.7 0 1 0 -7.4 0M248.30 490.60a3.7 3.7 0 1 0 7.4 0a3.7 3.7 0 1 0 -7.4 0M269.50 505.40a3.7 3.7 0 1 0 7.4 0a3.7 3.7 0 1 0 -7.4 0M256.90 509.00a3.7 3.7 0 1 0 7.4 0a3.7 3.7 0 1 0 -7.4 0M255.30 513.40a3.7 3.7 0 1 0 7.4 0a3.7 3.7 0 1 0 -7.4 0M279.10 511.00a3.7 3.7 0 1 0 7.4 0a3.7 3.7 0 1 0 -7.4 0M270.90 526.60a3.7 3.7 0 1 0 7.4 0a3.7 3.7 0 1 0 -7.4 0M326.30 425.00a3.7 3.7 0 1 0 7.4 0a3.7 3.7 0 1 0 -7.4 0M309.70 433.40a3.7 3.7 0 1 0 7.4 0a3.7 3.7 0 1 0 -7.4 0M342.30 431.60a3.7 3.7 0 1 0 7.4 0a3.7 3.7 0 1 0 -7.4 0M343.90 439.40a3.7 3.7 0 1 0 7.4 0a3.7 3.7 0 1 0 -7.4 0M349.90 440.00a3.7 3.7 0 1 0 7.4 0a3.7 3.7 0 1 0 -7.4 0M329.30 447.60a3.7 3.7 0 1 0 7.4 0a3.7 3.7 0 1 0 -7.4 0M395.90 449.00a3.7 3.7 0 1 0 7.4 0a3.7 3.7 0 1 0 -7.4 0M400.70 450.00a3.7 3.7 0 1 0 7.4 0a3.7 3.7 0 1 0 -7.4 0M383.70 455.60a3.7 3.7 0 1 0 7.4 0a3.7 3.7 0 1 0 -7.4 0M394.90 460.00a3.7 3.7 0 1 0 7.4 0a3.7 3.7 0 1 0 -7.4 0M391.30 468.00a3.7 3.7 0 1 0 7.4 0a3.7 3.7 0 1 0 -7.4 0M357.90 494.00a3.7 3.7 0 1 0 7.4 0a3.7 3.7 0 1 0 -7.4 0M303.30 500.60a3.7 3.7 0 1 0 7.4 0a3.7 3.7 0 1 0 -7.4 0M387.70 502.60a3.7 3.7 0 1 0 7.4 0a3.7 3.7 0 1 0 -7.4 0M398.30 513.60a3.7 3.7 0 1 0 7.4 0a3.7 3.7 0 1 0 -7.4 0M315.70 525.60a3.7 3.7 0 1 0 7.4 0a3.7 3.7 0 1 0 -7.4 0M348.90 528.60a3.7 3.7 0 1 0 7.4 0a3.7 3.7 0 1 0 -7.4 0M447.30 451.40a3.7 3.7 0 1 0 7.4 0a3.7 3.7 0 1 0 -7.4 0M437.90 457.40a3.7 3.7 0 1 0 7.4 0a3.7 3.7 0 1 0 -7.4 0M490.30 445.40a3.7 3.7 0 1 0 7.4 0a3.7 3.7 0 1 0 -7.4 0M493.00 446.20a3.7 3.7 0 1 0 7.4 0a3.7 3.7 0 1 0 -7.4 0M499.50 446.60a3.7 3.7 0 1 0 7.4 0a3.7 3.7 0 1 0 -7.4 0M520.30 443.00a3.7 3.7 0 1 0 7.4 0a3.7 3.7 0 1 0 -7.4 0M466.30 473.00a3.7 3.7 0 1 0 7.4 0a3.7 3.7 0 1 0 -7.4 0M513.30 470.40a3.7 3.7 0 1 0 7.4 0a3.7 3.7 0 1 0 -7.4 0M517.90 471.40a3.7 3.7 0 1 0 7.4 0a3.7 3.7 0 1 0 -7.4 0M517.30 481.60a3.7 3.7 0 1 0 7.4 0a3.7 3.7 0 1 0 -7.4 0M416.70 482.60a3.7 3.7 0 1 0 7.4 0a3.7 3.7 0 1 0 -7.4 0M448.90 483.00a3.7 3.7 0 1 0 7.4 0a3.7 3.7 0 1 0 -7.4 0M483.70 504.40a3.7 3.7 0 1 0 7.4 0a3.7 3.7 0 1 0 -7.4 0M527.80 508.60a3.7 3.7 0 1 0 7.4 0a3.7 3.7 0 1 0 -7.4 0M453.90 514.40a3.7 3.7 0 1 0 7.4 0a3.7 3.7 0 1 0 -7.4 0M502.30 517.40a3.7 3.7 0 1 0 7.4 0a3.7 3.7 0 1 0 -7.4 0M475.70 520.00a3.7 3.7 0 1 0 7.4 0a3.7 3.7 0 1 0 -7.4 0M474.90 528.60a3.7 3.7 0 1 0 7.4 0a3.7 3.7 0 1 0 -7.4 0M450.30 539.60a3.7 3.7 0 1 0 7.4 0a3.7 3.7 0 1 0 -7.4 0M558.70 426.00a3.7 3.7 0 1 0 7.4 0a3.7 3.7 0 1 0 -7.4 0M581.30 434.00a3.7 3.7 0 1 0 7.4 0a3.7 3.7 0 1 0 -7.4 0M646.30 442.40a3.7 3.7 0 1 0 7.4 0a3.7 3.7 0 1 0 -7.4 0M561.70 464.40a3.7 3.7 0 1 0 7.4 0a3.7 3.7 0 1 0 -7.4 0M587.30 463.60a3.7 3.7 0 1 0 7.4 0a3.7 3.7 0 1 0 -7.4 0M612.90 464.40a3.7 3.7 0 1 0 7.4 0a3.7 3.7 0 1 0 -7.4 0M642.70 473.00a3.7 3.7 0 1 0 7.4 0a3.7 3.7 0 1 0 -7.4 0M609.30 487.60a3.7 3.7 0 1 0 7.4 0a3.7 3.7 0 1 0 -7.4 0M579.30 499.60a3.7 3.7 0 1 0 7.4 0a3.7 3.7 0 1 0 -7.4 0M616.70 506.00a3.7 3.7 0 1 0 7.4 0a3.7 3.7 0 1 0 -7.4 0M548.90 517.00a3.7 3.7 0 1 0 7.4 0a3.7 3.7 0 1 0 -7.4 0M594.70 523.00a3.7 3.7 0 1 0 7.4 0a3.7 3.7 0 1 0 -7.4 0M567.90 527.60a3.7 3.7 0 1 0 7.4 0a3.7 3.7 0 1 0 -7.4 0M531.30 536.00a3.7 3.7 0 1 0 7.4 0a3.7 3.7 0 1 0 -7.4 0" fill="none" stroke="#ff0000" stroke-width="1.75"/>
<circle cx="428.75" cy="427" r="5.2" fill="#ff0000"/>
<path d="M247.90 77.40a3.7 3.7 0 1 0 7.4 0a3.7 3.7 0 1 0 -7.4 0M196.10 98.40a3.7 3.7 0 1 0 7.4 0a3.7 3.7 0 1 0 -7.4 0M198.90 129.80a3.7 3.7 0 1 0 7.4 0a3.7 3.7 0 1 0 -7.4 0M257.80 127.50a3.7 3.7 0 1 0 7.4 0a3.7 3.7 0 1 0 -7.4 0M273.55 131.80a3.7 3.7 0 1 0 7.4 0a3.7 3.7 0 1 0 -7.4 0M243.80 146.50a3.7 3.7 0 1 0 7.4 0a3.7 3.7 0 1 0 -7.4 0M201.70 157.60a3.7 3.7 0 1 0 7.4 0a3.7 3.7 0 1 0 -7.4 0M169.90 168.00a3.7 3.7 0 1 0 7.4 0a3.7 3.7 0 1 0 -7.4 0M241.30 180.00a3.7 3.7 0 1 0 7.4 0a3.7 3.7 0 1 0 -7.4 0M395.05 63.60a3.7 3.7 0 1 0 7.4 0a3.7 3.7 0 1 0 -7.4 0M398.55 60.50a3.7 3.7 0 1 0 7.4 0a3.7 3.7 0 1 0 -7.4 0M325.50 99.40a3.7 3.7 0 1 0 7.4 0a3.7 3.7 0 1 0 -7.4 0M347.90 109.60a3.7 3.7 0 1 0 7.4 0a3.7 3.7 0 1 0 -7.4 0M300.70 112.00a3.7 3.7 0 1 0 7.4 0a3.7 3.7 0 1 0 -7.4 0M327.90 114.40a3.7 3.7 0 1 0 7.4 0a3.7 3.7 0 1 0 -7.4 0M379.50 108.00a3.7 3.7 0 1 0 7.4 0a3.7 3.7 0 1 0 -7.4 0M399.00 116.00a3.7 3.7 0 1 0 7.4 0a3.7 3.7 0 1 0 -7.4 0M402.00 129.30a3.7 3.7 0 1 0 7.4 0a3.7 3.7 0 1 0 -7.4 0M381.10 148.80a3.7 3.7 0 1 0 7.4 0a3.7 3.7 0 1 0 -7.4 0M492.30 74.40a3.7 3.7 0 1 0 7.4 0a3.7 3.7 0 1 0 -7.4 0M463.10 86.00a3.7 3.7 0 1 0 7.4 0a3.7 3.7 0 1 0 -7.4 0M505.10 91.40a3.7 3.7 0 1 0 7.4 0a3.7 3.7 0 1 0 -7.4 0M433.10 129.00a3.7 3.7 0 1 0 7.4 0a3.7 3.7 0 1 0 -7.4 0M445.30 128.30a3.7 3.7 0 1 0 7.4 0a3.7 3.7 0 1 0 -7.4 0M474.70 126.20a3.7 3.7 0 1 0 7.4 0a3.7 3.7 0 1 0 -7.4 0M474.70 130.50a3.7 3.7 0 1 0 7.4 0a3.7 3.7 0 1 0 -7.4 0M513.30 170.00a3.7 3.7 0 1 0 7.4 0a3.7 3.7 0 1 0 -7.4 0M511.70 175.00a3.7 3.7 0 1 0 7.4 0a3.7 3.7 0 1 0 -7.4 0M533.90 60.40a3.7 3.7 0 1 0 7.4 0a3.7 3.7 0 1 0 -7.4 0M547.30 69.60a3.7 3.7 0 1 0 7.4 0a3.7 3.7 0 1 0 -7.4 0M578.90 105.20a3.7 3.7 0 1 0 7.4 0a3.7 3.7 0 1 0 -7.4 0M578.30 119.60a3.7 3.7 0 1 0 7.4 0a3.7 3.7 0 1 0 -7.4 0M623.70 164.40a3.7 3.7 0 1 0 7.4 0a3.7 3.7 0 1 0 -7.4 0M533.50 173.60a3.7 3.7 0 1 0 7.4 0a3.7 3.7 0 1 0 -7.4 0M600.70 173.20a3.7 3.7 0 1 0 7.4 0a3.7 3.7 0 1 0 -7.4 0M539.90 181.00a3.7 3.7 0 1 0 7.4 0a3.7 3.7 0 1 0 -7.4 0M168.70 218.00a3.7 3.7 0 1 0 7.4 0a3.7 3.7 0 1 0 -7.4 0M215.10 239.00a3.7 3.7 0 1 0 7.4 0a3.7 3.7 0 1 0 -7.4 0M211.30 288.60a3.7 3.7 0 1 0 7.4 0a3.7 3.7 0 1 0 -7.4 0M250.70 291.20a3.7 3.7 0 1 0 7.4 0a3.7 3.7 0 1 0 -7.4 0M303.30 195.40a3.7 3.7 0 1 0 7.4 0a3.7 3.7 0 1 0 -7.4 0M348.30 227.60a3.7 3.7 0 1 0 7.4 0a3.7 3.7 0 1 0 -7.4 0M356.55 244.50a3.7 3.7 0 1 0 7.4 0a3.7 3.7 0 1 0 -7.4 0M403.30 235.40a3.7 3.7 0 1 0 7.4 0a3.7 3.7 0 1 0 -7.4 0M339.30 282.40a3.7 3.7 0 1 0 7.4 0a3.7 3.7 0 1 0 -7.4 0M330.30 284.60a3.7 3.7 0 1 0 7.4 0a3.7 3.7 0 1 0 -7.4 0M322.70 291.00a3.7 3.7 0 1 0 7.4 0a3.7 3.7 0 1 0 -7.4 0M399.30 285.60a3.7 3.7 0 1 0 7.4 0a3.7 3.7 0 1 0 -7.4 0M425.30 191.00a3.7 3.7 0 1 0 7.4 0a3.7 3.7 0 1 0 -7.4 0M460.70 242.40a3.7 3.7 0 1 0 7.4 0a3.7 3.7 0 1 0 -7.4 0M471.70 241.40a3.7 3.7 0 1 0 7.4 0a3.7 3.7 0 1 0 -7.4 0M464.30 259.60a3.7 3.7 0 1 0 7.4 0a3.7 3.7 0 1 0 -7.4 0M495.90 258.00a3.7 3.7 0 1 0 7.4 0a3.7 3.7 0 1 0 -7.4 0M509.70 286.60a3.7 3.7 0 1 0 7.4 0a3.7 3.7 0 1 0 -7.4 0M418.30 289.00a3.7 3.7 0 1 0 7.4 0a3.7 3.7 0 1 0 -7.4 0M568.90 212.00a3.7 3.7 0 1 0 7.4 0a3.7 3.7 0 1 0 -7.4 0M544.70 221.40a3.7 3.7 0 1 0 7.4 0a3.7 3.7 0 1 0 -7.4 0M532.30 229.40a3.7 3.7 0 1 0 7.4 0a3.7 3.7 0 1 0 -7.4 0M624.90 234.60a3.7 3.7 0 1 0 7.4 0a3.7 3.7 0 1 0 -7.4 0M629.30 241.60a3.7 3.7 0 1 0 7.4 0a3.7 3.7 0 1 0 -7.4 0M602.30 267.40a3.7 3.7 0 1 0 7.4 0a3.7 3.7 0 1 0 -7.4 0M537.50 271.40a3.7 3.7 0 1 0 7.4 0a3.7 3.7 0 1 0 -7.4 0M616.70 272.00a3.7 3.7 0 1 0 7.4 0a3.7 3.7 0 1 0 -7.4 0M220.30 310.40a3.7 3.7 0 1 0 7.4 0a3.7 3.7 0 1 0 -7.4 0M222.90 309.40a3.7 3.7 0 1 0 7.4 0a3.7 3.7 0 1 0 -7.4 0M223.90 340.60a3.7 3.7 0 1 0 7.4 0a3.7 3.7 0 1 0 -7.4 0M243.90 397.00a3.7 3.7 0 1 0 7.4 0a3.7 3.7 0 1 0 -7.4 0M245.90 409.00a3.7 3.7 0 1 0 7.4 0a3.7 3.7 0 1 0 -7.4 0M332.70 343.40a3.7 3.7 0 1 0 7.4 0a3.7 3.7 0 1 0 -7.4 0M385.70 383.60a3.7 3.7 0 1 0 7.4 0a3.7 3.7 0 1 0 -7.4 0M357.90 391.60a3.7 3.7 0 1 0 7.4 0a3.7 3.7 0 1 0 -7.4 0M348.70 400.60a3.7 3.7 0 1 0 7.4 0a3.7 3.7 0 1 0 -7.4 0M331.70 410.00a3.7 3.7 0 1 0 7.4 0a3.7 3.7 0 1 0 -7.4 0M439.90 309.60a3.7 3.7 0 1 0 7.4 0a3.7 3.7 0 1 0 -7.4 0M503.70 304.40a3.7 3.7 0 1 0 7.4 0a3.7 3.7 0 1 0 -7.4 0M488.30 323.60a3.7 3.7 0 1 0 7.4 0a3.7 3.7 0 1 0 -7.4 0M475.30 329.60a3.7 3.7 0 1 0 7.4 0a3.7 3.7 0 1 0 -7.4 0M513.70 333.60a3.7 3.7 0 1 0 7.4 0a3.7 3.7 0 1 0 -7.4 0M493.30 358.00a3.7 3.7 0 1 0 7.4 0a3.7 3.7 0 1 0 -7.4 0M524.30 365.00a3.7 3.7 0 1 0 7.4 0a3.7 3.7 0 1 0 -7.4 0M449.70 375.00a3.7 3.7 0 1 0 7.4 0a3.7 3.7 0 1 0 -7.4 0M427.90 381.60a3.7 3.7 0 1 0 7.4 0a3.7 3.7 0 1 0 -7.4 0M413.70 390.40a3.7 3.7 0 1 0 7.4 0a3.7 3.7 0 1 0 -7.4 0M590.90 312.40a3.7 3.7 0 1 0 7.4 0a3.7 3.7 0 1 0 -7.4 0M610.30 319.00a3.7 3.7 0 1 0 7.4 0a3.7 3.7 0 1 0 -7.4 0M569.70 339.40a3.7 3.7 0 1 0 7.4 0a3.7 3.7 0 1 0 -7.4 0M575.30 357.40a3.7 3.7 0 1 0 7.4 0a3.7 3.7 0 1 0 -7.4 0M571.90 360.40a3.7 3.7 0 1 0 7.4 0a3.7 3.7 0 1 0 -7.4 0M606.30 360.00a3.7 3.7 0 1 0 7.4 0a3.7 3.7 0 1 0 -7.4 0M596.90 373.00a3.7 3.7 0 1 0 7.4 0a3.7 3.7 0 1 0 -7.4 0M631.30 385.40a3.7 3.7 0 1 0 7.4 0a3.7 3.7 0 1 0 -7.4 0M597.30 400.00a3.7 3.7 0 1 0 7.4 0a3.7 3.7 0 1 0 -7.4 0M206.30 424.40a3.7 3.7 0 1 0 7.4 0a3.7 3.7 0 1 0 -7.4 0M188.70 451.40a3.7 3.7 0 1 0 7.4 0a3.7 3.7 0 1 0 -7.4 0M247.70 458.40a3.7 3.7 0 1 0 7.4 0a3.7 3.7 0 1 0 -7.4 0M270.30 495.60a3.7 3.7 0 1 0 7.4 0a3.7 3.7 0 1 0 -7.4 0M237.70 530.00a3.7 3.7 0 1 0 7.4 0a3.7 3.7 0 1 0 -7.4 0M389.70 429.00a3.7 3.7 0 1 0 7.4 0a3.7 3.7 0 1 0 -7.4 0M343.70 433.40a3.7 3.7 0 1 0 7.4 0a3.7 3.7 0 1 0 -7.4 0M309.70 444.00a3.7 3.7 0 1 0 7.4 0a3.7 3.7 0 1 0 -7.4 0M389.70 460.40a3.7 3.7 0 1 0 7.4 0a3.7 3.7 0 1 0 -7.4 0M366.90 467.60a3.7 3.7 0 1 0 7.4 0a3.7 3.7 0 1 0 -7.4 0M354.30 492.00a3.7 3.7 0 1 0 7.4 0a3.7 3.7 0 1 0 -7.4 0M348.30 519.00a3.7 3.7 0 1 0 7.4 0a3.7 3.7 0 1 0 -7.4 0M485.70 426.60a3.7 3.7 0 1 0 7.4 0a3.7 3.7 0 1 0 -7.4 0M417.30 443.00a3.7 3.7 0 1 0 7.4 0a3.7 3.7 0 1 0 -7.4 0M474.70 449.40a3.7 3.7 0 1 0 7.4 0a3.7 3.7 0 1 0 -7.4 0M465.90 474.40a3.7 3.7 0 1 0 7.4 0a3.7 3.7 0 1 0 -7.4 0M459.90 478.40a3.7 3.7 0 1 0 7.4 0a3.7 3.7 0 1 0 -7.4 0M458.70 488.60a3.7 3.7 0 1 0 7.4 0a3.7 3.7 0 1 0 -7.4 0M434.90 505.40a3.7 3.7 0 1 0 7.4 0a3.7 3.7 0 1 0 -7.4 0M462.70 531.40a3.7 3.7 0 1 0 7.4 0a3.7 3.7 0 1 0 -7.4 0M453.30 537.00a3.7 3.7 0 1 0 7.4 0a3.7 3.7 0 1 0 -7.4 0M575.30 468.60a3.7 3.7 0 1 0 7.4 0a3.7 3.7 0 1 0 -7.4 0M591.90 462.60a3.7 3.7 0 1 0 7.4 0a3.7 3.7 0 1 0 -7.4 0M563.90 526.60a3.7 3.7 0 1 0 7.4 0a3.7 3.7 0 1 0 -7.4 0" fill="none" stroke="#ffc0cb" stroke-width="1.75"/>
<path d="M296.60 145.00a3.7 3.7 0 1 0 7.4 0a3.7 3.7 0 1 0 -7.4 0M471.90 140.30a3.7 3.7 0 1 0 7.4 0a3.7 3.7 0 1 0 -7.4 0M291.00 277.00a3.7 3.7 0 1 0 7.4 0a3.7 3.7 0 1 0 -7.4 0M456.30 239.00a3.7 3.7 0 1 0 7.4 0a3.7 3.7 0 1 0 -7.4 0M225.90 322.00a3.7 3.7 0 1 0 7.4 0a3.7 3.7 0 1 0 -7.4 0M288.30 338.60a3.7 3.7 0 1 0 7.4 0a3.7 3.7 0 1 0 -7.4 0M318.70 391.00a3.7 3.7 0 1 0 7.4 0a3.7 3.7 0 1 0 -7.4 0M183.90 452.00a3.7 3.7 0 1 0 7.4 0a3.7 3.7 0 1 0 -7.4 0M276.30 465.00a3.7 3.7 0 1 0 7.4 0a3.7 3.7 0 1 0 -7.4 0M314.30 477.60a3.7 3.7 0 1 0 7.4 0a3.7 3.7 0 1 0 -7.4 0M586.30 534.00a3.7 3.7 0 1 0 7.4 0a3.7 3.7 0 1 0 -7.4 0M273.60 136.80a3.7 3.7 0 1 0 7.4 0a3.7 3.7 0 1 0 -7.4 0M273.80 148.30a3.7 3.7 0 1 0 7.4 0a3.7 3.7 0 1 0 -7.4 0M375.30 149.40a3.7 3.7 0 1 0 7.4 0a3.7 3.7 0 1 0 -7.4 0M454.70 140.40a3.7 3.7 0 1 0 7.4 0a3.7 3.7 0 1 0 -7.4 0M432.30 161.00a3.7 3.7 0 1 0 7.4 0a3.7 3.7 0 1 0 -7.4 0M613.70 90.60a3.7 3.7 0 1 0 7.4 0a3.7 3.7 0 1 0 -7.4 0M635.50 142.40a3.7 3.7 0 1 0 7.4 0a3.7 3.7 0 1 0 -7.4 0M627.30 179.50a3.7 3.7 0 1 0 7.4 0a3.7 3.7 0 1 0 -7.4 0M173.30 270.00a3.7 3.7 0 1 0 7.4 0a3.7 3.7 0 1 0 -7.4 0M362.55 242.50a3.7 3.7 0 1 0 7.4 0a3.7 3.7 0 1 0 -7.4 0M502.30 296.00a3.7 3.7 0 1 0 7.4 0a3.7 3.7 0 1 0 -7.4 0M335.30 402.40a3.7 3.7 0 1 0 7.4 0a3.7 3.7 0 1 0 -7.4 0M462.90 353.60a3.7 3.7 0 1 0 7.4 0a3.7 3.7 0 1 0 -7.4 0M603.70 368.00a3.7 3.7 0 1 0 7.4 0a3.7 3.7 0 1 0 -7.4 0M197.30 481.00a3.7 3.7 0 1 0 7.4 0a3.7 3.7 0 1 0 -7.4 0M302.30 454.00a3.7 3.7 0 1 0 7.4 0a3.7 3.7 0 1 0 -7.4 0M400.30 501.60a3.7 3.7 0 1 0 7.4 0a3.7 3.7 0 1 0 -7.4 0M463.30 435.40a3.7 3.7 0 1 0 7.4 0a3.7 3.7 0 1 0 -7.4 0M580.30 429.00a3.7 3.7 0 1 0 7.4 0a3.7 3.7 0 1 0 -7.4 0M534.30 464.00a3.7 3.7 0 1 0 7.4 0a3.7 3.7 0 1 0 -7.4 0" fill="none" stroke="#0000ff" stroke-width="1.75"/>
<path d="M273.10 136.80h8.4M277.30 132.60v8.4M273.30 148.30h8.4M277.50 144.10v8.4M374.80 149.40h8.4M379.00 145.20v8.4M454.20 140.40h8.4M458.40 136.20v8.4M431.80 161.00h8.4M436.00 156.80v8.4M613.20 90.60h8.4M617.40 86.40v8.4M635.00 142.40h8.4M639.20 138.20v8.4M626.80 179.50h8.4M631.00 175.30v8.4M172.80 270.00h8.4M177.00 265.80v8.4M362.05 242.50h8.4M366.25 238.30v8.4M501.80 296.00h8.4M506.00 291.80v8.4M334.80 402.40h8.4M339.00 398.20v8.4M462.40 353.60h8.4M466.60 349.40v8.4M603.20 368.00h8.4M607.40 363.80v8.4M196.80 481.00h8.4M201.00 476.80v8.4M301.80 454.00h8.4M306.00 449.80v8.4M399.80 501.60h8.4M404.00 497.40v8.4M462.80 435.40h8.4M467.00 431.20v8.4M579.80 429.00h8.4M584.00 424.80v8.4M533.80 464.00h8.4M538.00 459.80v8.4M457.40 137.10h8.4M461.60 132.90v8.4M487.00 113.20h8.4M491.20 109.00v8.4M269.80 237.40h8.4M274.00 233.20v8.4M273.80 249.40h8.4M278.00 245.20v8.4M469.80 181.00h8.4M474.00 176.80v8.4M179.40 387.40h8.4M183.60 383.20v8.4M174.20 421.00h8.4M178.40 416.80v8.4M367.20 525.40h8.4M371.40 521.20v8.4M425.30 427.50h8.4M429.50 423.30v8.4M166.80 328.50h8.4M171.00 324.30v8.4M642.00 350.10h6.0M645.00 347.10v6.0M346.20 98.40h8.4M350.40 94.20v8.4" stroke="#008000" stroke-width="1.4" fill="none"/>
<path d="M277.30 135.30L278.80 136.80L277.30 138.30L275.80 136.80ZM277.50 146.80L279.00 148.30L277.50 149.80L276.00 148.30ZM379.00 147.90L380.50 149.40L379.00 150.90L377.50 149.40ZM458.40 138.90L459.90 140.40L458.40 141.90L456.90 140.40ZM436.00 159.50L437.50 161.00L436.00 162.50L434.50 161.00ZM617.40 89.10L618.90 90.60L617.40 92.10L615.90 90.60ZM639.20 140.90L640.70 142.40L639.20 143.90L637.70 142.40ZM631.00 178.00L632.50 179.50L631.00 181.00L629.50 179.50ZM177.00 268.50L178.50 270.00L177.00 271.50L175.50 270.00ZM366.25 241.00L367.75 242.50L366.25 244.00L364.75 242.50ZM506.00 294.50L507.50 296.00L506.00 297.50L504.50 296.00ZM339.00 400.90L340.50 402.40L339.00 403.90L337.50 402.40ZM466.60 352.10L468.10 353.60L466.60 355.10L465.10 353.60ZM607.40 366.50L608.90 368.00L607.40 369.50L605.90 368.00ZM201.00 479.50L202.50 481.00L201.00 482.50L199.50 481.00ZM306.00 452.50L307.50 454.00L306.00 455.50L304.50 454.00ZM404.00 500.10L405.50 501.60L404.00 503.10L402.50 501.60ZM467.00 433.90L468.50 435.40L467.00 436.90L465.50 435.40ZM584.00 427.50L585.50 429.00L584.00 430.50L582.50 429.00ZM538.00 462.50L539.50 464.00L538.00 465.50L536.50 464.00ZM461.60 135.60L463.10 137.10L461.60 138.60L460.10 137.10ZM491.20 111.70L492.70 113.20L491.20 114.70L489.70 113.20ZM274.00 235.90L275.50 237.40L274.00 238.90L272.50 237.40ZM278.00 247.90L279.50 249.40L278.00 250.90L276.50 249.40ZM474.00 179.50L475.50 181.00L474.00 182.50L472.50 181.00ZM183.60 385.90L185.10 387.40L183.60 388.90L182.10 387.40ZM178.40 419.50L179.90 421.00L178.40 422.50L176.90 421.00ZM371.40 523.90L372.90 525.40L371.40 526.90L369.90 525.40ZM429.50 426.00L431.00 427.50L429.50 429.00L428.00 427.50ZM171.00 327.00L172.50 328.50L171.00 330.00L169.50 328.50ZM350.40 96.90L351.90 98.40L350.40 99.90L348.90 98.40Z" fill="#008000"/>
<path d="M350.40 93.55L351.58 96.68L354.92 96.83L352.30 98.92L353.19 102.14L350.40 100.30L347.61 102.14L348.50 98.92L345.88 96.83L349.22 96.68ZM393.40 211.65L394.58 214.78L397.92 214.93L395.30 217.02L396.19 220.24L393.40 218.40L390.61 220.24L391.50 217.02L388.88 214.93L392.22 214.78ZM439.00 249.65L440.18 252.78L443.52 252.93L440.90 255.02L441.79 258.24L439.00 256.40L436.21 258.24L437.10 255.02L434.48 252.93L437.82 252.78ZM214.60 306.25L215.78 309.38L219.12 309.53L216.50 311.62L217.39 314.84L214.60 313.00L211.81 314.84L212.70 311.62L210.08 309.53L213.42 309.38ZM239.00 353.25L240.18 356.38L243.52 356.53L240.90 358.62L241.79 361.84L239.00 360.00L236.21 361.84L237.10 358.62L234.48 356.53L237.82 356.38ZM544.40 338.85L545.58 341.98L548.92 342.13L546.30 344.22L547.19 347.44L544.40 345.60L541.61 347.44L542.50 344.22L539.88 342.13L543.22 341.98ZM645.00 345.35L646.18 348.48L649.52 348.63L646.90 350.72L647.79 353.94L645.00 352.10L642.21 353.94L643.10 350.72L640.48 348.63L643.82 348.48ZM200.00 431.25L201.18 434.38L204.52 434.53L201.90 436.62L202.79 439.84L200.00 438.00L197.21 439.84L198.10 436.62L195.48 434.53L198.82 434.38ZM170.50 323.25L171.68 326.38L175.02 326.53L172.40 328.62L173.29 331.84L170.50 330.00L167.71 331.84L168.60 328.62L165.98 326.53L169.32 326.38Z" fill="#ffff00"/>
<circle cx="350.4" cy="98.3" r="0.9" fill="#fffff0"/>
<circle cx="393.4" cy="216.4" r="0.9" fill="#fffff0"/>
<circle cx="439" cy="254.4" r="0.9" fill="#fffff0"/>
<circle cx="214.6" cy="311" r="0.9" fill="#fffff0"/>
<circle cx="239" cy="358" r="0.9" fill="#fffff0"/>
<circle cx="544.4" cy="343.6" r="0.9" fill="#fffff0"/>
<circle cx="645" cy="350.1" r="0.9" fill="#fffff0"/>
<circle cx="200" cy="436" r="0.9" fill="#fffff0"/>
<circle cx="170.5" cy="328" r="0.9" fill="#fffff0"/>
</g>
<path d="M181.5 61v5M201.5 61v10M222.5 61v5M243.5 61v5M263.5 61v5M284.5 61v5M305.5 61v10M325.5 61v5M346.5 61v5M367.5 61v5M388.5 61v5M408.5 61v10M429.5 61v5M450.5 61v5M470.5 61v5M491.5 61v5M512.5 61v10M532.5 61v5M553.5 61v5M574.5 61v5M594.5 61v5M615.5 61v10M636.5 61v5M187.5 540v-5M208.5 540v-10M228.5 540v-5M249.5 540v-5M269.5 540v-5M289.5 540v-5M310.5 540v-10M330.5 540v-5M351.5 540v-5M371.5 540v-5M392.5 540v-5M412.5 540v-10M432.5 540v-5M452.5 540v-5M473.5 540v-5M493.5 540v-5M514.5 540v-10M534.5 540v-5M555.5 540v-5M575.5 540v-5M595.5 540v-5M616.5 540v-10M636.5 540v-5M172 76.5h5M172 97.5h10M172 117.5h5M172 138.5h5M172 159.5h5M172 179.5h5M172 200.5h10M172 220.5h5M172 241.5h5M172 261.5h5M172 282.5h5M172 303.5h10M172 323.5h5M172 344.5h5M172 364.5h5M172 385.5h5M172 406.5h10M172 426.5h5M172 447.5h5M172 467.5h5M172 488.5h5M172 509.5h10M172 529.5h5M649 72.5h-5M649 93.5h-10M649 114.5h-5M649 134.5h-5M649 155.5h-5M649 175.5h-5M649 196.5h-10M649 217.5h-5M649 237.5h-5M649 258.5h-5M649 278.5h-5M649 299.5h-10M649 319.5h-5M649 340.5h-5M649 361.5h-5M649 381.5h-5M649 402.5h-10M649 422.5h-5M649 443.5h-5M649 464.5h-5M649 484.5h-5M649 505.5h-10M649 525.5h-5" stroke="#d6d6d6" stroke-width="1" fill="none"/>
<rect x="171.5" y="60.5" width="478" height="480" fill="none" stroke="#000" stroke-width="1.2"/>
<text x="208.4" y="558" font-size="17" text-anchor="middle">20.4000<tspan font-size="13.5" dx="-1" dy="-2.3">°</tspan></text>
<text x="310.4" y="558" font-size="17" text-anchor="middle">20.2000<tspan font-size="13.5" dx="-1" dy="-2.3">°</tspan></text>
<text x="412.4" y="558" font-size="17" text-anchor="middle">20.0000<tspan font-size="13.5" dx="-1" dy="-2.3">°</tspan></text>
<text x="513.6" y="558" font-size="17" text-anchor="middle">19.8000<tspan font-size="13.5" dx="-1" dy="-2.3">°</tspan></text>
<text x="615.6" y="558" font-size="17" text-anchor="middle">19.6000<tspan font-size="13.5" dx="-1" dy="-2.3">°</tspan></text>
<text x="165" y="101" font-size="17" text-anchor="end">-59.8000<tspan font-size="13.5" dx="-1" dy="-2.3">°</tspan></text>
<text x="165" y="204" font-size="17" text-anchor="end">-59.9000<tspan font-size="13.5" dx="-1" dy="-2.3">°</tspan></text>
<text x="165" y="307" font-size="17" text-anchor="end">-60.0000<tspan font-size="13.5" dx="-1" dy="-2.3">°</tspan></text>
<text x="165" y="410" font-size="17" text-anchor="end">-60.1000<tspan font-size="13.5" dx="-1" dy="-2.3">°</tspan></text>
<text x="165" y="513" font-size="17" text-anchor="end">-60.2000<tspan font-size="13.5" dx="-1" dy="-2.3">°</tspan></text>
<text x="410.5" y="579" font-size="17" text-anchor="middle">RA (J2000)</text>
<text transform="translate(83,300) rotate(-90)" x="0" y="0" font-size="17" letter-spacing="0.2" text-anchor="middle">Dec (J2000)</text>
</svg></body></html>
